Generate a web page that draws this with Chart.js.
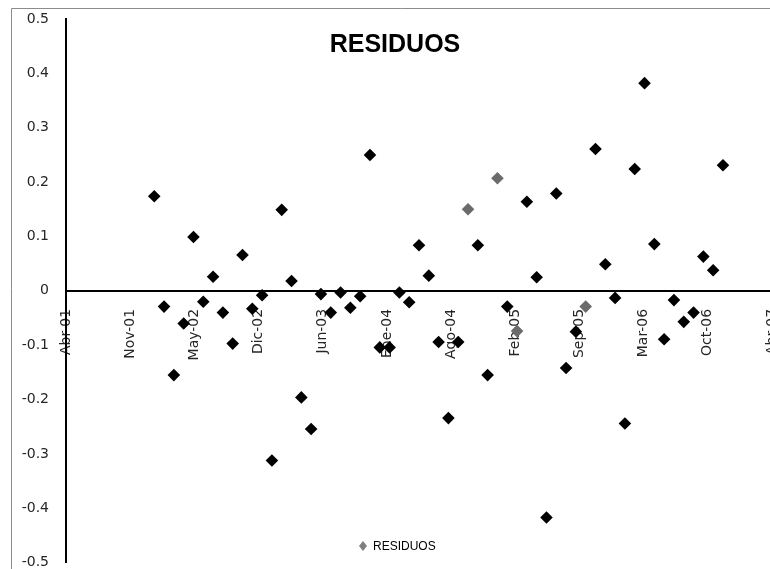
<!DOCTYPE html>
<html>
<head>
<meta charset="utf-8">
<script src="https://cdn.jsdelivr.net/npm/chart.js@4"></script>
<style>
  html, body { margin: 0; padding: 0; background: #fff; overflow: hidden; }
  #wrap { position: relative; width: 792px; height: 569px; }
</style>
</head>
<body>
<div id="wrap"><canvas id="residuosChart" width="792" height="569"></canvas></div>
<script>
// Residuos mensuales; eje x en meses contados desde Abr-01

const tickLabels = ['Abr-01', 'Nov-01', 'May-02', 'Dic-02', 'Jun-03', 'Ene-04',
                    'Ago-04', 'Feb-05', 'Sep-05', 'Mar-06', 'Oct-06', 'Abr-07'];
const totalMeses = 72;   // Abr-01 .. Abr-07
const mesInicial = 9;    // primer residuo: Ene-02

const residuos = [
   0.174, -0.029, -0.155, -0.060,  0.099, -0.020,  0.026, -0.040, -0.097,  0.066,
  -0.033, -0.008, -0.312,  0.149,  0.018, -0.196, -0.254, -0.006, -0.040, -0.003,
  -0.031, -0.010,  0.250, -0.104, -0.104, -0.003, -0.021,  0.084,  0.028, -0.094,
  -0.234, -0.094,  0.150,  0.084, -0.155,  0.207, -0.029, -0.074,  0.164,  0.025,
  -0.417,  0.179, -0.142, -0.075, -0.029,  0.261,  0.049, -0.013, -0.244,  0.224,
   0.382,  0.086, -0.089, -0.017, -0.057, -0.040,  0.063,  0.038,  0.231
];

// puntos que en el original quedaron con el color gris por defecto
const puntosGrises = [32, 35, 37, 44];

const seriesName = 'RESIDUOS';

function drawResiduosChart() {
  const ctx = document.getElementById('residuosChart');
  if (!ctx) return;

  const points = [];
  for (let i = 0; i < residuos.length; i++) {
    points.push({ x: mesInicial + i, y: residuos[i] });
  }

  const colorPunto = (c) => puntosGrises.indexOf(c.dataIndex) >= 0 ? '#6b6b6b' : '#000000';

  // marco, titulo y leyenda dibujados a mano (van dentro del area del grafico)
  const decoracion = {
    id: 'decoracion',
    beforeDraw(chart) {
      const c = chart.ctx;
      c.save();
      c.strokeStyle = '#8c8c8c';
      c.lineWidth = 1;
      c.beginPath();
      c.moveTo(11.5, chart.height);
      c.lineTo(11.5, 8.5);
      c.lineTo(chart.width, 8.5);
      c.stroke();
      c.restore();
    },
    afterDraw(chart) {
      const c = chart.ctx;
      c.save();
      c.fillStyle = '#000';
      c.font = 'bold 25px "Liberation Sans", Arial, sans-serif';
      c.textAlign = 'center';
      c.textBaseline = 'alphabetic';
      c.fillText(seriesName, 395, 52);

      // leyenda
      c.fillStyle = '#7f7f7f';
      c.beginPath();
      c.moveTo(363, 541);
      c.lineTo(367, 546);
      c.lineTo(363, 551);
      c.lineTo(359, 546);
      c.closePath();
      c.fill();
      c.fillStyle = '#000';
      c.font = '12px "Liberation Sans", Arial, sans-serif';
      c.textAlign = 'left';
      c.textBaseline = 'middle';
      c.fillText(seriesName, 373, 547);
      c.restore();
    }
  };

  new Chart(ctx.getContext('2d'), {
    type: 'scatter',
    data: {
      datasets: [{
        label: seriesName,
        data: points,
        pointStyle: 'rectRot',
        pointRadius: 6.3,
        pointBorderWidth: 0,
        pointBackgroundColor: colorPunto,
        pointBorderColor: colorPunto
      }]
    },
    options: {
      responsive: false,
      animation: false,
      layout: { padding: { top: 19, bottom: 6, left: 0, right: 20 } },
      plugins: {
        legend: { display: false },
        title: { display: false },
        tooltip: { enabled: false }
      },
      scales: {
        x: {
          type: 'linear',
          position: { y: 0 },
          min: 0,
          max: totalMeses,
          // grid oculto; tickLength solo sirve para separar las etiquetas del eje
          grid: { display: false, drawTicks: true, tickLength: 18 },
          border: { color: '#000', width: 2 },
          afterBuildTicks: (scale) => {
            scale.ticks = tickLabels.map((t, i) => ({ value: i * totalMeses / (tickLabels.length - 1) }));
          },
          ticks: {
            autoSkip: false,
            minRotation: 90,
            maxRotation: 90,
            padding: 0,
            color: '#262626',
            font: { family: '"DejaVu Sans", sans-serif', size: 14 },
            callback: (v, i) => tickLabels[i]
          }
        },
        y: {
          min: -0.5,
          max: 0.5,
          grid: { display: false, drawTicks: true, tickLength: 17 },
          border: { color: '#000', width: 2 },
          afterFit: (scale) => { scale.width = 66; },
          ticks: {
            stepSize: 0.1,
            padding: 0,
            color: '#262626',
            font: { family: '"DejaVu Sans", sans-serif', size: 14, lineHeight: 0.8 },
            callback: (v) => String(Math.round(v * 10) / 10)
          }
        }
      }
    },
    plugins: [decoracion]
  });
}

drawResiduosChart();
</script>
</body>
</html>
